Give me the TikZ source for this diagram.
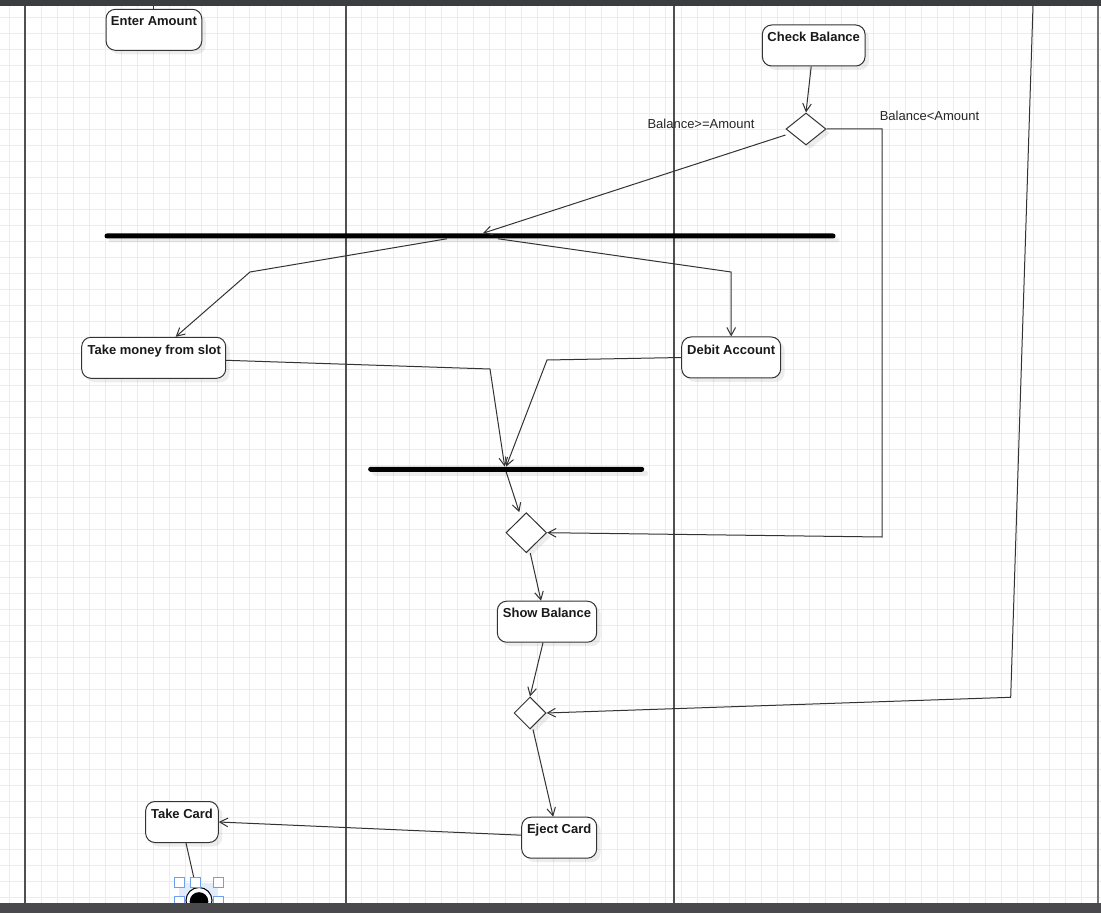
\documentclass[tikz,border=0pt]{standalone}
\usepackage{fontspec}
\setmainfont{Liberation Sans}
\usetikzlibrary{arrows.meta,shapes.geometric,calc,shadows}
\definecolor{gridc}{RGB}{236,236,236}
\definecolor{edgec}{RGB}{51,51,51}
\definecolor{lanec}{RGB}{80,80,80}
\definecolor{topbar}{RGB}{59,62,65}
\definecolor{botbar}{RGB}{74,74,76}
\definecolor{hdl}{RGB}{110,160,240}
\definecolor{selfill}{RGB}{225,236,252}
\begin{document}
\begin{tikzpicture}[x=0.75pt,y=-0.75pt,
  shadowed/.style={drop shadow={shadow xshift=3pt,shadow yshift=-3pt,fill=black,opacity=0.07}},
  act/.style={draw=edgec,line width=0.75pt,fill=white,rounded corners=7pt,inner sep=0pt,minimum height=30.75pt,shadowed},
  dec/.style={diamond,draw=edgec,line width=0.75pt,fill=white,inner sep=0pt,shadowed},
  bar/.style={fill=black,rounded corners=1.8pt,inner sep=0pt,minimum height=3.75pt,shadowed},
  txt/.style={font=\bfseries\fontsize{9.75}{11}\selectfont,text=black!90,inner sep=0pt,anchor=base},
  lbl/.style={font=\fontsize{9.75}{11}\selectfont,text=black!85,inner sep=0pt,anchor=base},
  edge/.style={draw=edgec,line width=0.75pt,-{Straight Barb[length=6pt,width=6.5pt]}},
  plain/.style={draw=edgec,line width=0.75pt},
  lane/.style={draw=lanec,line width=1pt},
  gridline/.style={draw=gridc,line width=0.75pt},
  handle/.style={draw=hdl,fill=white,line width=0.75pt,minimum size=7.5pt,inner sep=0pt}
]
\useasboundingbox (0,0) rectangle (1101,913);
\fill[white] (0,0) rectangle (1101,913);
% grid
\foreach \i in {0,...,68} \draw[gridline] ({9.5+16*\i},5) -- ({9.5+16*\i},903);
\foreach \j in {0,...,56} \draw[gridline] (0,{1.3+16*\j}) -- (1101,{1.3+16*\j});
% lanes
\draw[lane] (25,5) -- (25,903);
\draw[lane] (346,5) -- (346,903);
\draw[lane] (674,5) -- (674,903);
\draw[lane,draw=lanec!80] (1098,5) -- (1098,903);

% activity nodes
\node[act,minimum width=71.8pt] (ea) at (153.9,29.8) {};
\node[txt] (eat) at (153.9,26) {Enter Amount};
\node[act,minimum width=77pt] (cb) at (813.7,45.5) {};
\node[txt] (cbt) at (813.7,41.7) {Check Balance};
\node[act,minimum width=108pt] (tm) at (153.7,357.8) {};
\node[txt] (tmt) at (154.3,354) {Take money from slot};
\node[act,minimum width=74.25pt] (da) at (731.2,357.5) {};
\node[txt] (dat) at (731.2,354) {Debit Account};
\node[act,minimum width=74.5pt] (sb) at (547,621.7) {};
\node[txt] (sbt) at (547,617.8) {Show Balance};
\node[act,minimum width=56.25pt] (ec) at (559.2,837.7) {};
\node[txt] (ect) at (559.2,833.8) {Eject Card};
\node[act,minimum width=54.5pt] (tc) at (182,822) {};
\node[txt] (tct) at (182,818) {Take Card};

% decisions
\node[dec,minimum width=30pt,minimum height=24pt] (d1) at (806,129) {};
\node[dec,minimum width=30.5pt,minimum height=30pt] (d2) at (526.3,532.7) {};
\node[dec,minimum width=24pt,minimum height=24pt] (d3) at (530,713) {};

% fork / join bars
\node[bar,minimum width=548.25pt] (fork1) at (470,236) {};
\node[bar,minimum width=207pt] (join) at (506.2,469.3) {};

% guard labels
\node[lbl] (g1) at (701,128.3) {Balance>=Amount};
\node[lbl] (g2) at (929.5,120.5) {Balance<Amount};

% end node with selection
\fill[selfill] (179,882.5) rectangle (218,903);
\node[circle,draw=black,line width=0.75pt,fill=white,minimum size=19.5pt,inner sep=0pt] (endn) at (199,900.5) {};
\node[circle,fill=black,minimum size=14pt,inner sep=0pt] (endin) at (199,901.5) {};

% waypoints
\coordinate (ta) at (153.9,5.7);
\coordinate (tr) at (1033,5.7);
\coordinate (w1) at (250,272);
\coordinate (w2) at (731.2,272);
\coordinate (w3) at (490,369);
\coordinate (w4) at (547,360);
\coordinate (w5) at (882,129);
\coordinate (w6) at (882,537);
\coordinate (w7) at (1010.7,697.3);

% connectors
\draw[plain] (ta) -- (ea.north);
\draw[edge] ($(cb.south)+(-2.5,0)$) -- (d1.north);
\draw[edge] ($(d1.west)+(0,6)$) -- ($(fork1.north)+(13,0)$);
\draw[edge] ($(fork1.south)+(-23,0)$) -- (w1) -- ($(tm.north)+(22,0)$);
\draw[edge] ($(fork1.south)+(28,0)$) -- (w2) -- (da.north);
\draw[edge] ($(tm.east)+(0,2.5)$) -- (w3) -- ($(join.north)+(-1.5,0)$);
\draw[edge] (da.west) -- (w4) -- (join.north);
\draw[edge] (join.south) -- ($(d2.north)+(-7,0)$);
\draw[edge] (d1.east) -- (w5) -- (w6) -- (d2.east);
\draw[edge] ($(d2.south)+(4,0)$) -- ($(sb.north)+(-6,0)$);
\draw[edge] ($(sb.south)+(-4,0)$) -- (d3.north);
\draw[edge] (tr) -- (w7) -- (d3.east);
\draw[edge] ($(d3.south)+(3,0)$) -- ($(ec.north)+(-6,0)$);
\draw[edge] ($(ec.west)+(0,-2.5)$) -- (tc.east);
\draw[plain] ($(tc.south)+(4,0)$) -- (endn);

% selection handles
\node[handle] (h1) at (179,882.5) {};
\node[handle] (h2) at (195.5,882.5) {};
\node[handle] (h3) at (218,882.5) {};
\node[handle] (h4) at (179,901.5) {};
\node[handle] (h5) at (218,901.5) {};

% window bars
\fill[topbar] (0,0) rectangle (1101,5.7);
\fill[botbar] (0,903) rectangle (1101,913);
\end{tikzpicture}
\end{document}
